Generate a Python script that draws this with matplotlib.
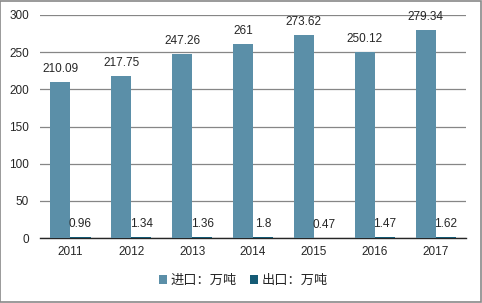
import matplotlib
matplotlib.use("Agg")
import matplotlib.pyplot as plt
import numpy as np

years = ["2011", "2012", "2013", "2014", "2015", "2016", "2017"]
imports = [210.09, 217.75, 247.26, 261, 273.62, 250.12, 279.34]
exports = [0.96, 1.34, 1.36, 1.8, 0.47, 1.47, 1.62]
import_labels = ["210.09", "217.75", "247.26", "261", "273.62", "250.12", "279.34"]
export_labels = ["0.96", "1.34", "1.36", "1.8", "0.47", "1.47", "1.62"]
series_names = ["进口：万吨", "出口：万吨"]
y_ticks = [0, 50, 100, 150, 200, 250, 300]

plt.rcParams["font.family"] = ["Liberation Sans", "Noto Sans CJK SC"]

fig = plt.figure(figsize=(4.82, 3.03), dpi=100)
ax = fig.add_axes([0.083, 0.2145, 0.884, 0.736])

x = np.arange(len(years))
w = 0.33
b1 = ax.bar(x - w / 2, imports, width=w, color="#5B8FA8", zorder=3, label=series_names[0])
b2 = ax.bar(x + w / 2, exports, width=w, color="#155B75", zorder=3, label=series_names[1])

for rect, txt in zip(b1, import_labels):
    ax.annotate(txt, (rect.get_x() + rect.get_width() / 2, rect.get_height()),
                xytext=(0, 5), textcoords="offset points", ha="center", va="bottom",
                fontsize=8.5, color="#262626")
for rect, txt in zip(b2, export_labels):
    ax.annotate(txt, (rect.get_x() + rect.get_width() / 2, rect.get_height()),
                xytext=(0, 5), textcoords="offset points", ha="center", va="bottom",
                fontsize=8.5, color="#262626")

ax.set_xlim(-0.5, len(years) - 0.5)
ax.set_ylim(0, 300)
ax.set_yticks(y_ticks)
ax.set_xticks(x)
ax.set_xticklabels(years)
ax.tick_params(axis="both", length=0, labelsize=8.5, colors="#262626")
ax.tick_params(axis="y", pad=8)
ax.tick_params(axis="x", pad=6)
ax.grid(axis="y", color="#868686", linewidth=0.9, zorder=0)
for side in ["left", "right", "top"]:
    ax.spines[side].set_visible(False)
ax.spines["bottom"].set_color("#262626")
ax.spines["bottom"].set_linewidth(1.0)

leg = fig.legend(loc="center", bbox_to_anchor=(0.505, 0.074), ncol=2, frameon=False,
                 handlelength=0.6, handleheight=0.6, handletextpad=0.25, columnspacing=1.0,
                 prop={"family": ["Noto Sans CJK SC", "Liberation Sans"], "size": 9.5})
for t in leg.get_texts():
    t.set_color("#262626")

fig.patches.append(plt.Rectangle((0.001, 0.002), 0.997, 0.995, transform=fig.transFigure,
                                 fill=False, edgecolor="#898989", linewidth=1.2))

fig.savefig("out.png", dpi=100)
